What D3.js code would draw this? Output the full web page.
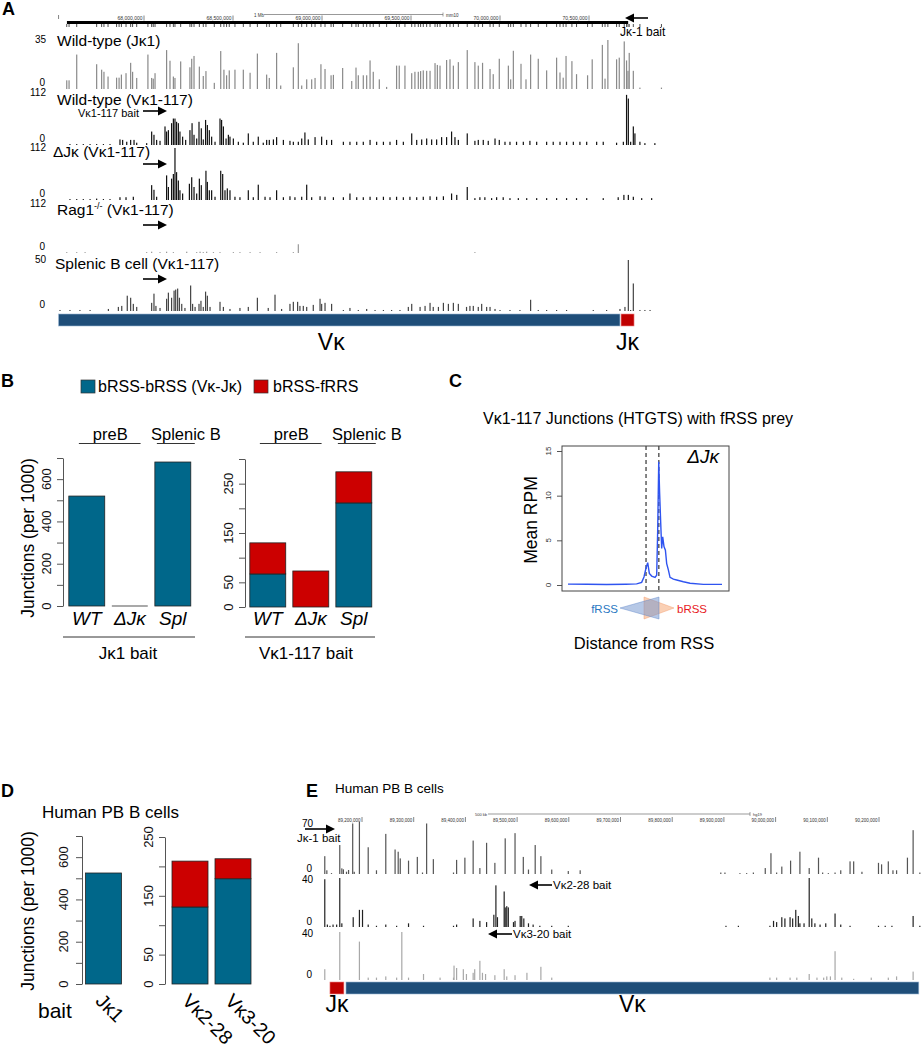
<!DOCTYPE html>
<html><head><meta charset="utf-8">
<script src="https://cdn.jsdelivr.net/npm/d3@7"></script>
<style>body{margin:0;background:#fff}</style>
</head><body><div id="chart"></div>
<script>
// ---------------- DATA ----------------
// Panel A: HTGTS junction tracks, [position (Mb, mm10 chr6), value]
const aWtJk1 = [[67.566,6.2],[67.579,6.2],[67.622,24.6],[67.734,17.7],[67.762,13.8],[67.775,12.3],[67.798,8.9],[67.846,8.1],[67.860,8.1],[67.873,10.3],[67.899,11.3],[67.925,18.7],[67.936,12.3],[67.959,7.9],[68.022,24.6],[68.043,7.9],[68.052,7.4],[68.062,11.3],[68.127,27.8],[68.146,20.2],[68.165,8.9],[68.174,7.9],[68.206,19.7],[68.258,15.5],[68.268,21.6],[68.281,23.6],[68.311,16.0],[68.333,9.3],[68.348,12.8],[68.395,4.4],[68.431,27.1],[68.449,13.8],[68.464,9.8],[68.479,13.3],[68.511,13.8],[68.558,13.8],[68.596,11.6],[68.637,25.3],[68.689,10.3],[68.704,7.9],[68.745,25.8],[68.768,2.5],[68.839,15.5],[68.867,32.7],[68.886,2.5],[68.914,6.9],[68.942,6.9],[68.961,7.9],[68.994,17.7],[69.017,14.3],[69.051,9.8],[69.064,10.1],[69.116,15.0],[69.167,5.7],[69.191,15.3],[69.204,9.8],[69.232,9.8],[69.251,9.8],[69.270,20.4],[69.288,12.3],[69.322,6.9],[69.363,1.5],[69.419,16.7],[69.434,16.7],[69.466,16.7],[69.504,11.3],[69.522,12.3],[69.541,12.3],[69.554,12.8],[69.569,13.3],[69.588,13.0],[69.607,13.0],[69.635,18.5],[69.648,17.2],[69.663,16.7],[69.700,20.7],[69.719,21.2],[69.738,16.7],[69.766,19.2],[69.816,27.8],[69.859,19.2],[69.878,16.7],[69.902,18.7],[69.944,14.3],[69.962,10.6],[69.996,21.6],[70.047,16.7],[70.060,6.9],[70.075,27.3],[70.118,18.0],[70.146,6.9],[70.172,24.6],[70.215,21.6],[70.262,13.3],[70.318,22.4],[70.337,11.8],[70.355,8.1],[70.371,23.6],[70.404,19.9],[70.430,10.6],[70.492,9.8],[70.518,21.2],[70.575,31.5],[70.590,7.4],[70.606,35],[70.655,21.2],[70.670,22.4],[70.698,34],[70.711,20.4],[70.719,13],[70.726,25.8],[70.749,13],[70.786,1],[70.907,1]];

const aWtVk117 = [[67.584,2],[67.622,2],[67.659,2],[67.697,2],[67.734,2],[67.772,2],[67.809,2],[67.865,12],[67.880,11],[67.903,7],[67.925,11],[67.944,11],[67.959,5],[68.015,4],[68.043,29],[68.056,22],[68.071,11],[68.090,9],[68.118,40],[68.127,29],[68.137,32],[68.155,47],[68.165,57],[68.174,57],[68.183,50],[68.193,47],[68.202,29],[68.217,18],[68.234,11],[68.258,32],[68.270,47],[68.281,22],[68.296,14],[68.309,50],[68.322,36],[68.333,12],[68.346,54],[68.356,43],[68.367,32],[68.380,18],[68.399,7],[68.427,57],[68.436,54],[68.446,40],[68.461,14],[68.474,22],[68.483,18],[68.502,14],[68.530,7],[68.558,5],[68.586,25],[68.614,7],[68.642,18],[68.670,5],[68.689,11],[68.704,11],[68.727,12],[68.745,17],[68.783,11],[68.820,9],[68.839,7],[68.867,7],[68.886,14],[68.904,27],[68.923,12],[68.961,17],[68.998,18],[69.026,11],[69.054,11],[69.120,7],[69.157,7],[69.195,7],[69.232,7],[69.270,11],[69.307,7],[69.345,7],[69.382,7],[69.419,11],[69.457,7],[69.504,25],[69.532,11],[69.560,12],[69.588,14],[69.616,12],[69.644,12],[69.672,17],[69.700,17],[69.728,29],[69.747,17],[69.766,11],[69.816,25],[69.859,9],[69.878,11],[69.906,11],[69.934,9],[69.972,14],[69.996,11],[70.028,7],[70.056,7],[70.093,7],[70.131,7],[70.168,9],[70.206,7],[70.262,7],[70.299,7],[70.337,7],[70.374,7],[70.412,7],[70.449,7],[70.487,7],[70.543,7],[70.580,7],[70.655,5],[70.693,7],[70.711,108],[70.721,100],[70.734,7],[70.749,40],[70.758,25],[70.786,7],[70.814,4],[70.870,4]];

const aDJkVk117 = [[67.584,2],[67.622,2],[67.659,2],[67.697,2],[67.734,3],[67.772,2],[67.809,2],[67.865,6],[67.899,6],[67.940,7],[68.043,32],[68.056,22],[68.071,7],[68.127,53],[68.137,28],[68.155,46],[68.165,56],[68.174,112],[68.183,60],[68.193,42],[68.202,21],[68.217,14],[68.255,35],[68.268,49],[68.281,28],[68.296,14],[68.311,46],[68.322,32],[68.348,63],[68.356,39],[68.367,21],[68.380,21],[68.399,7],[68.431,63],[68.442,56],[68.455,21],[68.468,25],[68.483,21],[68.511,7],[68.539,6],[68.586,21],[68.614,6],[68.642,33],[68.680,7],[68.708,6],[68.745,21],[68.783,6],[68.820,8],[68.848,6],[68.886,7],[68.914,33],[68.942,6],[68.989,8],[69.017,7],[69.064,6],[69.120,6],[69.157,14],[69.195,6],[69.232,6],[69.270,7],[69.307,6],[69.345,7],[69.382,6],[69.419,7],[69.457,6],[69.494,7],[69.532,6],[69.569,7],[69.607,8],[69.644,7],[69.682,8],[69.728,14],[69.757,11],[69.816,28],[69.859,4],[69.887,6],[69.915,6],[69.953,4],[69.981,6],[70.018,6],[70.056,4],[70.103,4],[70.150,4],[70.206,4],[70.262,4],[70.318,4],[70.374,4],[70.430,4],[70.487,4],[70.580,4],[70.664,6],[70.696,11],[70.721,11],[70.749,7],[70.796,4],[70.852,4]];

const aRagVk117 = [[67.566,2],[67.622,2],[67.669,2],[68.015,2],[68.043,3],[68.090,2],[68.127,3],[68.165,2],[68.240,3],[68.296,2],[68.315,3],[68.333,2],[68.352,3],[68.390,2],[68.427,2],[68.502,2],[68.539,2],[68.596,2],[68.652,2],[68.745,2],[68.839,2],[68.867,20],[69.859,2]];

const aSplVk117 = [[67.528,1],[67.584,1],[67.640,1],[67.697,1],[67.800,2],[67.856,4],[67.875,5],[67.906,15],[67.925,13],[67.940,7],[67.959,4],[68.043,8],[68.056,17],[68.067,5],[68.090,3],[68.127,12],[68.137,18],[68.155,13],[68.169,20],[68.178,21],[68.189,22],[68.199,13],[68.212,7],[68.230,3],[68.262,25],[68.273,7],[68.287,4],[68.309,7],[68.320,10],[68.333,4],[68.346,19],[68.356,15],[68.371,4],[68.427,9],[68.446,4],[68.483,2],[68.539,3],[68.586,4],[68.637,13],[68.698,3],[68.736,16],[68.773,2],[68.820,7],[68.839,9],[68.863,9],[68.876,5],[68.895,5],[68.914,4],[68.951,6],[68.989,12],[68.998,7],[69.017,8],[69.054,7],[69.120,1],[69.157,3],[69.204,1],[69.251,2],[69.298,1],[69.345,1],[69.391,1],[69.438,1],[69.485,4],[69.504,7],[69.551,4],[69.579,5],[69.607,8],[69.625,4],[69.654,4],[69.682,8],[69.710,7],[69.738,8],[69.766,7],[69.812,4],[69.831,5],[69.850,5],[69.878,4],[69.897,7],[69.925,4],[69.944,4],[69.972,2],[70.000,1],[70.056,1],[70.112,1],[70.172,11],[70.215,1],[70.262,1],[70.318,1],[70.374,1],[70.524,1],[70.599,1],[70.674,2],[70.702,4],[70.721,50],[70.734,1],[70.749,27],[70.786,1],[70.814,1],[70.843,1]];

const aTrackNames = ["Wild-type (Jκ1)","Wild-type (Vκ1-117)","ΔJκ (Vκ1-117)","Rag1-/- (Vκ1-117)","Splenic B cell (Vκ1-117)"];
const aTrackMax = [35,112,112,112,50];
const aRulerTicks = [68,68.5,69,69.5,70,70.5];
const aRulerLabels = ["68,000,000","68,500,000","69,000,000","69,500,000","70,000,000","70,500,000"];
const aRulerSpan = [67.567,70.72];
const aRegions = [{name:"Vκ",start:67.52,end:70.674},{name:"Jκ",start:70.68,end:70.753}];

// Panel B
const bCats = ["WT","ΔJκ","Spl"];
const bJk1Blue = [520,0,681];
const bVk117Blue = [67,0,211];
const bVk117Red = [63,73,63];
const bLeftTicks = [0,100,200,300,400,500,600,700];
const bLeftLabels = [0,200,400,600];
const bRightTicks = [0,50,100,150,200,250,300];
const bRightLabels = [0,50,150,250];
const legendNames = ["bRSS-bRSS (Vκ-Jκ)","bRSS-fRRS"];

// Panel C: mean RPM vs distance (bp) from RSS
const cCurve = [[-600,0.1],[-450,0.08],[-300,0.05],[-150,0.08],[-65,0.12],[-26,0.3],[-8,0.9],[8,1.9],[21,2.5],[34,1.3],[52,1.0],[78,0.86],[91,1.1],[99,6.2],[107,13.8],[114,10.3],[122,7.1],[130,4.1],[138,5.4],[148,4.3],[159,3.9],[169,2.4],[182,1.7],[195,0.86],[221,0.65],[247,0.56],[299,0.37],[351,0.2],[455,0.07],[600,0.07]];
const cDashed = [8,108];
const cTicks = [0,5,10,15];

// Panel D
const dLeftCats = ["Jκ1"];
const dLeftBlue = [525];
const dRightCats = ["Vκ2-28","Vκ3-20"];
const dRightBlue = [131,179];
const dRightRed = [78,34];
const dLeftTicks = [0,100,200,300,400,500,600,700];
const dLeftLabels = [0,200,400,600];
const dRightTicks = [0,50,100,150,200,250];
const dRightLabels = [0,50,150,250];

// Panel E: human IGK tracks, [position (Mb, hg19 chr2), value]
const eJk1 = [[89.128,24],[89.132,5],[89.141,1],[89.157,39],[89.161,7.6],[89.164,6.3],[89.170,3.1],[89.174,5.4],[89.182,68],[89.185,3],[89.195,70],[89.212,36],[89.228,5],[89.246,54],[89.264,33],[89.270,30],[89.274,21],[89.290,18],[89.307,23],[89.317,2],[89.325,68],[89.338,20],[89.377,2],[89.383,19],[89.399,22],[89.415,45],[89.428,8],[89.441,42],[89.457,15],[89.477,48],[89.496,55],[89.512,23],[89.522,6],[89.535,39],[89.546,24],[89.567,6],[89.599,4],[89.622,5],[89.894,2],[89.902,2],[89.931,1],[89.944,1],[89.957,2],[89.980,8],[89.991,28],[90.002,2],[90.012,10],[90.029,18],[90.047,30],[90.065,8],[90.083,22],[90.091,2],[90.102,1],[90.115,2],[90.126,5],[90.144,17],[90.151,17],[90.167,3],[90.199,15],[90.205,13],[90.218,17],[90.227,5],[90.234,5],[90.255,22],[90.266,59],[90.279,2]];
const eVk228 = [[89.128,39],[89.133,2],[89.138,1],[89.144,2],[89.151,2],[89.157,40],[89.161,3],[89.183,8],[89.195,14],[89.201,14],[89.212,2],[89.228,1],[89.246,2],[89.267,1],[89.290,3],[89.319,1],[89.377,1],[89.383,2],[89.415,7],[89.428,5],[89.441,4],[89.455,10],[89.459,34],[89.462,8],[89.475,29],[89.477,16],[89.480,17],[89.483,16],[89.493,4],[89.496,5],[89.506,9],[89.509,9],[89.513,7],[89.522,3],[89.531,2],[89.544,1],[89.567,1],[89.599,1],[89.904,1],[89.928,1],[89.989,1],[89.996,5],[90.002,4],[90.012,8],[90.018,7],[90.028,8],[90.033,7],[90.039,14],[90.044,9],[90.047,3],[90.055,3],[90.065,40],[90.070,7],[90.076,3],[90.086,2],[90.097,3],[90.115,11],[90.126,2],[90.144,1],[90.199,1],[90.212,1],[90.225,1],[90.266,9],[90.279,1]];
const eVk320 = [[89.128,9],[89.157,40],[89.195,32],[89.212,2],[89.228,2],[89.246,3],[89.267,2],[89.277,40],[89.290,2],[89.319,5],[89.351,2],[89.377,2],[89.378,12],[89.383,10],[89.396,9],[89.402,5],[89.415,6],[89.418,9],[89.428,16],[89.433,6],[89.439,5],[89.457,4],[89.475,9],[89.480,3],[89.496,4],[89.519,6],[89.546,11],[89.567,2],[89.989,2],[90.002,2],[90.028,2],[90.041,2],[90.065,5],[90.080,2],[90.093,2],[90.099,3],[90.106,3],[90.115,24],[90.128,2],[90.151,1],[90.185,2],[90.218,2],[90.234,3],[90.266,7]];
const eTrackMax = [70,40,40];
const eRulerTicks = [89.2,89.3,89.4,89.5,89.6,89.7,89.8,89.9,90.0,90.1,90.2];
const eRulerLabels = ["89,200,000","89,300,000","89,400,000","89,500,000","89,600,000","89,700,000","89,800,000","89,900,000","90,000,000","90,100,000","90,200,000"];
const eRegions = [{name:"Jκ",start:89.138,end:89.165},{name:"Vκ",start:89.169,end:90.277}];

// ---------------- DRAW ----------------
const FONT = '"Liberation Sans", Arial, Helvetica, sans-serif';
const BLUE = "#00678a", RED = "#cc0000", REGBLUE = "#1f4e79", REGRED = "#c00000";
const svg = d3.select("#chart").append("svg").attr("width",921).attr("height",1050)
  .style("font-family",FONT).style("display","block");
svg.append("rect").attr("width",921).attr("height",1050).attr("fill","#fff");

function txt(g,x,y,s,o={}){
  const t=g.append("text").attr("x",x).attr("y",y).text(s)
    .attr("font-size",o.size||12).attr("fill",o.fill||"#000")
    .attr("text-anchor",o.anchor||"start");
  if(o.italic) t.attr("font-style","italic");
  if(o.bold) t.attr("font-weight","bold");
  if(o.rotate!=null) t.attr("transform",`rotate(${o.rotate},${x},${y})`);
  return t;
}
function arrow(g,x1,x2,y,hl=8,hw=4,sw=1.6){
  const dir=Math.sign(x2-x1);
  g.append("line").attr("x1",x1).attr("x2",x2-dir*hl).attr("y1",y).attr("y2",y).attr("stroke","#000").attr("stroke-width",sw);
  g.append("path").attr("d",`M${x2},${y}L${x2-dir*hl},${y-hw}L${x2-dir*hl},${y+hw}Z`).attr("fill","#000");
}
[["A",2,15],["B",1,387],["C",449,387],["D",1,797],["E",306,797]].forEach(p=>txt(svg,p[1],p[2],p[0],{size:18,bold:true}));

// ===== Panel A =====
const gA = svg.append("g");
const xA = d3.scaleLinear().domain([68,70.5]).range([144,589]);
gA.append("rect").attr("x",xA(aRulerSpan[0])).attr("y",21).attr("width",xA(aRulerSpan[1])-xA(aRulerSpan[0])).attr("height",3).attr("fill","#000");
gA.selectAll(null).data(aWtJk1).join("line").attr("x1",d=>xA(d[0])).attr("x2",d=>xA(d[0])).attr("y1",24).attr("y2",27).attr("stroke","#222").attr("stroke-width",0.8);
aRulerTicks.forEach((t,i)=>{
  gA.append("line").attr("x1",xA(t)).attr("x2",xA(t)).attr("y1",15.5).attr("y2",20.5).attr("stroke","#333").attr("stroke-width",0.6);
  txt(gA,xA(t)-1.5,20,aRulerLabels[i],{size:5,anchor:"end",fill:"#333"});
});
gA.append("line").attr("x1",xA(67.52)).attr("x2",xA(67.52)).attr("y1",15).attr("y2",19).attr("stroke","#333").attr("stroke-width",0.6);
txt(gA,254,16.5,"1 Mb",{size:4.5,fill:"#333"});
gA.append("line").attr("x1",264).attr("x2",443).attr("y1",14.5).attr("y2",14.5).attr("stroke","#999").attr("stroke-width",1);
gA.append("line").attr("x1",443).attr("x2",443).attr("y1",12.5).attr("y2",16.5).attr("stroke","#666").attr("stroke-width",0.6);
txt(gA,446,16.5,"mm10",{size:4.5,fill:"#333"});
arrow(gA,648,625,18,9,4.5,1.6);
txt(gA,620,36,"Jκ-1 bait",{size:12});

const aLayout = [
  {data:aWtJk1, top:40, base:89, color:"#8a8a8a", lx:57, ly:46},
  {data:aWtVk117, top:93, base:145, color:"#111", lx:57, ly:105},
  {data:aDJkVk117, top:148, base:200, color:"#111", lx:53, ly:157},
  {data:aRagVk117, top:204, base:253, color:"#999", lx:57, ly:215},
  {data:aSplVk117, top:260, base:311, color:"#444", lx:55, ly:269}
];
aLayout.forEach((L,i)=>{
  const y = d3.scaleLinear().domain([0,aTrackMax[i]]).range([L.base,L.top]).clamp(true);
  gA.append("g").selectAll("rect").data(L.data).join("rect")
    .attr("x",d=>xA(d[0])-0.6).attr("width",1.2)
    .attr("y",d=>Math.min(y(d[1]),L.base-0.9)).attr("height",d=>Math.max(0.9,L.base-y(d[1])))
    .attr("fill",L.color);
  txt(gA,46,L.top+3,String(aTrackMax[i]),{size:10,anchor:"end"});
  txt(gA,45,L.base-3,"0",{size:10,anchor:"end"});
  if(i===3){
    const t=gA.append("text").attr("x",L.lx).attr("y",L.ly).attr("font-size",15.5);
    t.append("tspan").text("Rag1");
    t.append("tspan").attr("dy",-6).attr("font-size",9).text("-/-");
    t.append("tspan").attr("dy",6).text(" (Vκ1-117)");
  } else txt(gA,L.lx,L.ly,aTrackNames[i],{size:15.5});
});
txt(gA,78,117,"Vκ1-117 bait",{size:11});
[111,164,225,279].forEach(y=>arrow(gA,143,167,y,9,4.5,1.6));
aRegions.forEach((r,i)=>{
  gA.append("rect").attr("x",xA(r.start)).attr("y",314).attr("width",xA(r.end)-xA(r.start)).attr("height",12)
    .attr("fill",i===0?REGBLUE:REGRED).attr("stroke",i===0?"#9bb7d4":"#e88").attr("stroke-width",0.6);
  const cx=(xA(r.start)+xA(r.end))/2 - (i===0?8:0);
  txt(gA,cx,350,r.name,{size:23,anchor:"middle"});
});

// ===== Panel B =====
const gB = svg.append("g");
[BLUE,RED].forEach((c,i)=>{
  const x0=[81,254][i];
  gB.append("rect").attr("x",x0).attr("y",380).attr("width",14).attr("height",13).attr("fill",c).attr("stroke","#333").attr("stroke-width",0.7);
  txt(gB,x0+(i===0?17:19),392,legendNames[i],{size:16});
});
function rAxis(g,x,scale,ticks,labels,d,size){
  const ax=g.append("g").attr("transform",`translate(${x},0)`)
    .call(d3.axisLeft(scale).tickValues(ticks).tickSize(6).tickSizeOuter(0).tickFormat(""));
  ax.select(".domain").attr("stroke","#555").attr("stroke-width",1);
  ax.selectAll(".tick line").attr("stroke","#555");
  labels.forEach(v=>txt(g,x-d,scale(v),String(v),{size:size,anchor:"middle",rotate:-90,fill:"#111"}));
}
function stackedBars(g,cats,layers,xs,ys){
  const rows=cats.map((c,i)=>{const o={cat:c};layers.forEach((L,j)=>o["s"+j]=L[i]);return o;});
  const st=d3.stack().keys(layers.map((_,j)=>"s"+j))(rows);
  const cols=[BLUE,RED];
  st.forEach((s,j)=>{
    g.append("g").selectAll("rect").data(s.filter(d=>d[1]-d[0]>0)).join("rect")
      .attr("x",d=>xs(d.data.cat)).attr("width",xs.bandwidth())
      .attr("y",d=>ys(d[1])).attr("height",d=>ys(d[0])-ys(d[1]))
      .attr("fill",cols[j]).attr("stroke","#222").attr("stroke-width",0.8);
  });
}
const yB1=d3.scaleLinear().domain([0,700]).range([606,458]);
const yB2=d3.scaleLinear().domain([0,300]).range([607,459]);
const xB1=d3.scaleBand().domain(bCats).range([63,196.6]).paddingInner(0.165).paddingOuter(0.135);
const xB2=d3.scaleBand().domain(bCats).range([244,377.6]).paddingInner(0.165).paddingOuter(0.135);
rAxis(gB,63,yB1,bLeftTicks,bLeftLabels,12,13);
rAxis(gB,245,yB2,bRightTicks,bRightLabels,12,13);
stackedBars(gB,bCats,[bJk1Blue],xB1,yB1);
gB.append("line").attr("x1",xB1("ΔJκ")).attr("x2",xB1("ΔJκ")+xB1.bandwidth()).attr("y1",yB1(0)).attr("y2",yB1(0)).attr("stroke","#555").attr("stroke-width",1.2);
stackedBars(gB,bCats,[bVk117Blue,bVk117Red],xB2,yB2);
txt(gB,34,538,"Junctions (per 1000)",{size:17.5,anchor:"middle",rotate:-90});
[[xB1,"Jκ1 bait",63,195,128],[xB2,"Vκ1-117 bait",245,375,306]].forEach(([xs,lab,l0,l1,cx])=>{
  bCats.forEach(c=>txt(gB,xs(c)+xs.bandwidth()/2,625,c,{size:19,italic:true,anchor:"middle"}));
  const pre0=xs("WT")+xs.bandwidth()*0.28, pre1=xs("ΔJκ")+xs.bandwidth()*0.8;
  txt(gB,(xs("WT")+xs("ΔJκ")+xs.bandwidth())/2+2,440,"preB",{size:16.5,anchor:"middle"});
  gB.append("line").attr("x1",pre0).attr("x2",pre1).attr("y1",443.5).attr("y2",443.5).attr("stroke","#333");
  txt(gB,xs("Spl")+xs.bandwidth()/2+13,440,"Splenic B",{size:16.5,anchor:"middle"});
  gB.append("line").attr("x1",xs("Spl")+2).attr("x2",xs("Spl")+xs.bandwidth()+4).attr("y1",443.5).attr("y2",443.5).attr("stroke","#333");
  gB.append("line").attr("x1",l0).attr("x2",l1).attr("y1",637).attr("y2",637).attr("stroke","#333");
  txt(gB,cx,659,lab,{size:17,anchor:"middle"});
});

// ===== Panel C =====
const gC = svg.append("g");
txt(gC,483,424,"Vκ1-117 Junctions (HTGTS) with fRSS prey",{size:16});
const yC=d3.scaleLinear().domain([0,15]).range([585,451]);
const xC=d3.scaleLinear().domain([-600,600]).range([568,722]);
const axC=gC.append("g").attr("transform","translate(562,0)").call(d3.axisLeft(yC).tickValues(cTicks).tickSize(5).tickSizeOuter(0).tickFormat(""));
axC.select(".domain").remove();
axC.selectAll(".tick line").attr("stroke","#555");
cTicks.forEach(v=>txt(gC,551,yC(v),String(v),{size:8,anchor:"middle",rotate:-90,fill:"#333"}));
cDashed.forEach(v=>gC.append("line").attr("x1",xC(v)).attr("x2",xC(v)).attr("y1",446).attr("y2",591).attr("stroke","#222").attr("stroke-width",1.1).attr("stroke-dasharray","4,3"));
gC.append("path").datum(cCurve).attr("d",d3.line().x(d=>xC(d[0])).y(d=>yC(d[1]))).attr("fill","none").attr("stroke","#2f54f0").attr("stroke-width",1.4);
gC.append("rect").attr("x",562).attr("y",446).attr("width",167).attr("height",145).attr("fill","none").attr("stroke","#444").attr("stroke-width",1);
txt(gC,719,463,"ΔJκ",{size:19,italic:true,anchor:"end"});
txt(gC,537,520,"Mean RPM",{size:17.5,anchor:"middle",rotate:-90});
gC.append("path").attr("d","M644,597L674,608L644,619Z").attr("fill","rgba(246,170,120,0.55)").attr("stroke","rgba(240,150,100,0.7)").attr("stroke-width",0.6);
gC.append("path").attr("d","M620,608L659,597L659,619Z").attr("fill","rgba(110,145,205,0.5)").attr("stroke","rgba(90,130,200,0.7)").attr("stroke-width",0.6);
txt(gC,618,613,"fRSS",{size:11.5,anchor:"end",fill:"#2a78c2"});
txt(gC,677,613,"bRSS",{size:11.5,fill:"#e8191e"});
txt(gC,644,649,"Distance from RSS",{size:16.5,anchor:"middle"});

// ===== Panel D =====
const gD = svg.append("g");
txt(gD,42,818,"Human PB B cells",{size:17});
const yD1=d3.scaleLinear().domain([0,700]).range([984,836]);
const yD2=d3.scaleLinear().domain([0,250]).range([984,837]);
const xD1=d3.scaleBand().domain(dLeftCats).range([82,125]).paddingInner(0.165).paddingOuter(0.07);
const xD2=d3.scaleBand().domain(dRightCats).range([165,258]).paddingInner(0.163).paddingOuter(0.163);
rAxis(gD,82,yD1,dLeftTicks,dLeftLabels,14,13);
rAxis(gD,165,yD2,dRightTicks,dRightLabels,12,13);
stackedBars(gD,dLeftCats,[dLeftBlue],xD1,yD1);
stackedBars(gD,dRightCats,[dRightBlue,dRightRed],xD2,yD2);
txt(gD,34,911,"Junctions (per 1000)",{size:17.5,anchor:"middle",rotate:-90});
txt(gD,38,1018,"bait",{size:21});
[[xD1,dLeftCats],[xD2,dRightCats]].forEach(([xs,cats])=>cats.forEach(c=>{
  txt(gD,xs(c)+xs.bandwidth()/2-9,1002,c,{size:19.5,rotate:45});
}));

// ===== Panel E =====
const gE = svg.append("g");
txt(gE,335,793,"Human PB B cells",{size:13.5});
const xE=d3.scaleLinear().domain([89.2,90.2]).range([362,879]);
eRulerTicks.forEach((t,i)=>{
  gE.append("line").attr("x1",xE(t)).attr("x2",xE(t)).attr("y1",817).attr("y2",822).attr("stroke","#333").attr("stroke-width",0.6);
  txt(gE,xE(t)-1.5,821.5,eRulerLabels[i],{size:4.5,anchor:"end",fill:"#333"});
});
txt(gE,475,815.5,"500 kb",{size:4,fill:"#333"});
gE.append("line").attr("x1",488).attr("x2",750).attr("y1",814).attr("y2",814).attr("stroke","#999").attr("stroke-width",1);
gE.append("line").attr("x1",750).attr("x2",750).attr("y1",812).attr("y2",816).attr("stroke","#666").attr("stroke-width",0.6);
txt(gE,753,815.5,"hg19",{size:4,fill:"#333"});
const eLayout=[
  {data:eJk1, top:822, base:874, color:"#555"},
  {data:eVk228, top:878, base:927, color:"#222"},
  {data:eVk320, top:932, base:980, color:"#a8a8a8"}
];
eLayout.forEach((L,i)=>{
  const y=d3.scaleLinear().domain([0,eTrackMax[i]]).range([L.base,L.top]).clamp(true);
  gE.append("g").selectAll("rect").data(L.data).join("rect")
    .attr("x",d=>xE(d[0])-0.6).attr("width",1.2)
    .attr("y",d=>Math.min(y(d[1]),L.base-0.9)).attr("height",d=>Math.max(0.9,L.base-y(d[1])))
    .attr("fill",L.color);
  txt(gE,313,L.top+4.5,String(eTrackMax[i]),{size:10,anchor:"end"});
  txt(gE,312,L.base-2.5,"0",{size:10,anchor:"end"});
});
arrow(gE,305,335,829,9,4.5,1.6);
txt(gE,297,842,"Jκ-1 bait",{size:11.5});
arrow(gE,552,529,885,9,4.5,1.6);
txt(gE,553,889,"Vκ2-28 bait",{size:11.5});
arrow(gE,512,488,934,9,4.5,1.6);
txt(gE,513,938,"Vκ3-20 bait",{size:11.5});
eRegions.forEach((r,i)=>{
  gE.append("rect").attr("x",xE(r.start)).attr("y",982).attr("width",xE(r.end)-xE(r.start)).attr("height",12)
    .attr("fill",i===0?REGRED:REGBLUE).attr("stroke",i===0?"#e88":"#9bb7d4").attr("stroke-width",0.6);
  const cx=(xE(r.start)+xE(r.end))/2;
  txt(gE,cx,1012,r.name,{size:23,anchor:"middle"});
});
</script>
</body></html>
